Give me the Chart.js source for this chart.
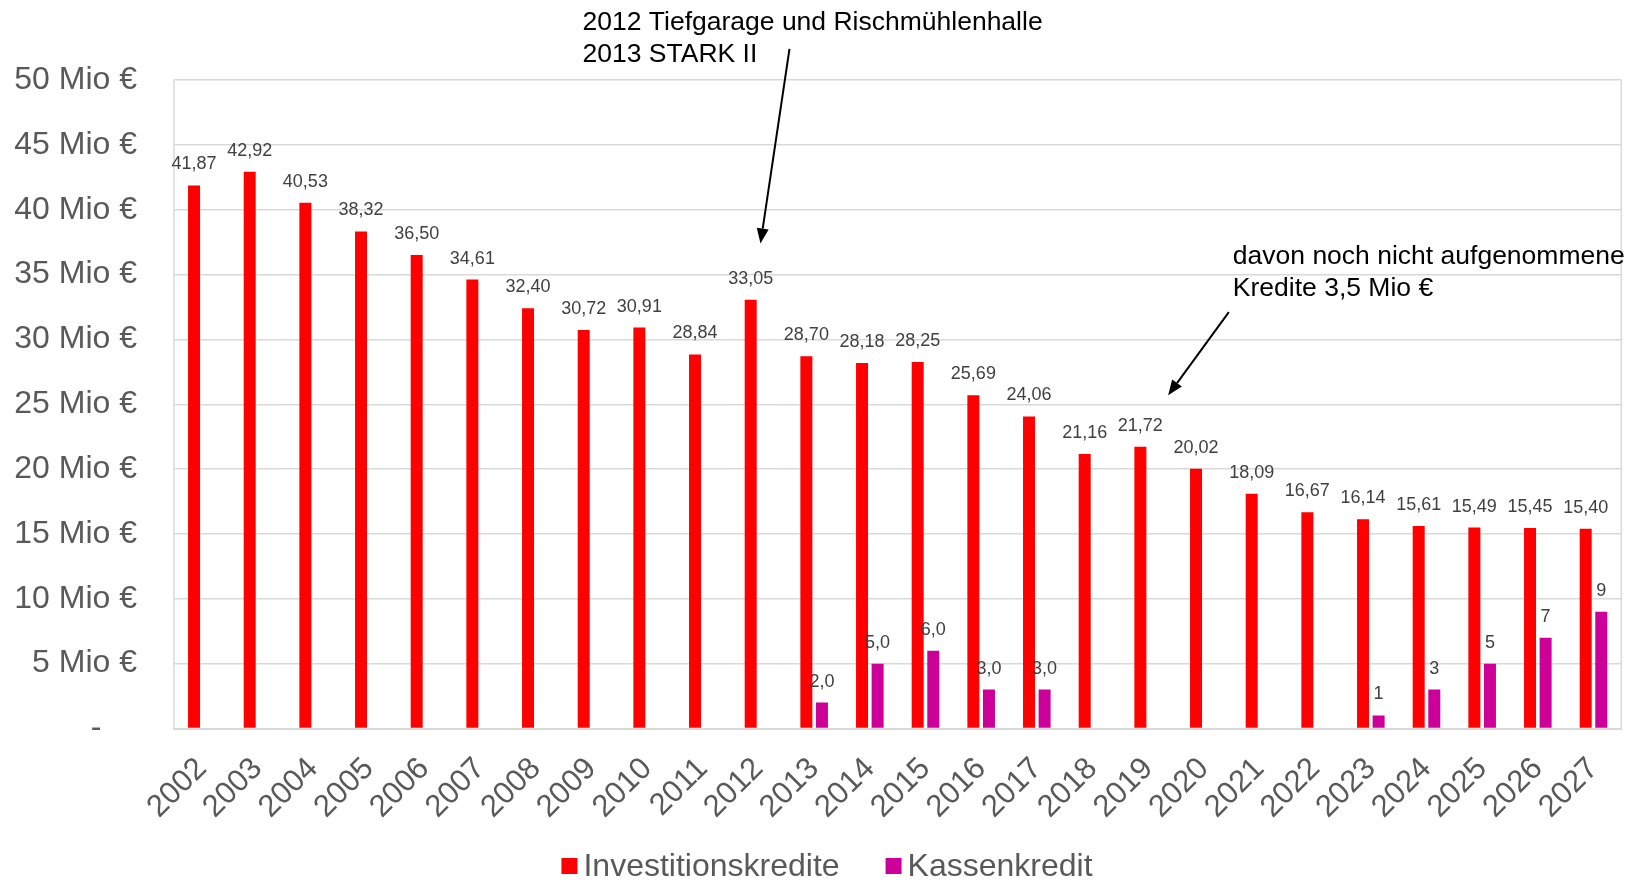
<!DOCTYPE html>
<html>
<head>
<meta charset="utf-8">
<script src="https://cdn.jsdelivr.net/npm/chart.js@4"></script>
<style>
  html, body { margin: 0; padding: 0; background: #fff; }
  #wrap { width: 1634px; height: 880px; }
</style>
</head>
<body>
<div id="wrap"><canvas id="kredite"></canvas></div>
<script>
const years = ['2002', '2003', '2004', '2005', '2006', '2007', '2008', '2009', '2010', '2011', '2012', '2013', '2014',
    '2015', '2016', '2017', '2018', '2019', '2020', '2021', '2022', '2023', '2024', '2025', '2026', '2027'];

const investitionskredite = [41.87, 42.92, 40.53, 38.32, 36.50, 34.61, 32.40, 30.72, 30.91, 28.84, 33.05, 28.70, 28.18,
    28.25, 25.69, 24.06, 21.16, 21.72, 20.02, 18.09, 16.67, 16.14, 15.61, 15.49, 15.45, 15.40];

const kassenkredit = [null, null, null, null, null, null, null, null, null, null, null, 2, 5,
    6, 3, 3, null, null, null, null, null, 1, 3, 5, 7, 9];

// the slide shows "2,0" for the older years and plain integers for the plan years
const kassenLabels = ['', '', '', '', '', '', '', '', '', '', '', '2,0', '5,0',
    '6,0', '3,0', '3,0', '', '', '', '', '', '1', '3', '5', '7', '9'];

const investLabels = investitionskredite.map(v => v.toFixed(2).replace('.', ','));

const yTicks = [0, 5, 10, 15, 20, 25, 30, 35, 40, 45, 50];

// notes with arrows: anchored on a year and a value of the axes
const notes = [
    {
        lines: ['2012 Tiefgarage und Rischmühlenhalle', '2013 STARK II'],
        textYear: '2012', textDx: -176, textValue: 54.4,
        fromYear: '2012', fromDx: 31, fromValue: 52.4,
        toYear: '2012', toDx: 2, toValue: 37.4
    },
    {
        lines: ['davon noch nicht aufgenommene', 'Kredite 3,5 Mio €'],
        textYear: '2020', textDx: 29, textValue: 36.4,
        fromYear: '2020', fromDx: 25, fromValue: 32.1,
        toYear: '2019', toDx: 20, toValue: 25.7
    }
];

const FONT = "'Liberation Sans', Arial, sans-serif";

const plotBorder = {
    id: 'plotBorder',
    beforeDatasetsDraw(chart) {
        const { ctx, chartArea: a } = chart;
        ctx.save();
        ctx.strokeStyle = '#d9d9d9';
        ctx.lineWidth = 1.5;
        ctx.beginPath();
        ctx.moveTo(a.left, a.bottom);
        ctx.lineTo(a.left, a.top);
        ctx.moveTo(a.right, a.top);
        ctx.lineTo(a.right, a.bottom);
        ctx.stroke();
        ctx.restore();
    }
};

// Excel-like legend: small squares close to the text, centred a bit right of the middle
const bottomLegend = {
    id: 'bottomLegend',
    afterDraw(chart) {
        const ctx = chart.ctx;
        const box = 16, gap = 6, itemGap = 46;
        ctx.save();
        ctx.font = '32px ' + FONT;
        ctx.textBaseline = 'middle';
        ctx.textAlign = 'left';
        const items = chart.data.datasets.map(ds => ({ text: ds.label, color: ds.backgroundColor, w: ctx.measureText(ds.label).width }));
        const total = items.reduce((s, it) => s + box + gap + it.w, 0) + itemGap * (items.length - 1);
        let x = chart.width / 2 + 10 - total / 2;
        const y = chart.height - 13;
        items.forEach(it => {
            ctx.fillStyle = it.color;
            ctx.fillRect(x, y - box / 2 - 1, box, box);
            ctx.fillStyle = '#595959';
            ctx.fillText(it.text, x + box + gap, y);
            x += box + gap + it.w + itemGap;
        });
        ctx.restore();
    }
};

const valueLabels = {
    id: 'valueLabels',
    afterDatasetsDraw(chart) {
        const ctx = chart.ctx;
        const texts = [investLabels, kassenLabels];
        ctx.save();
        ctx.font = '18px ' + FONT;
        ctx.fillStyle = '#404040';
        ctx.textAlign = 'center';
        ctx.textBaseline = 'middle';
        chart.data.datasets.forEach((ds, d) => {
            chart.getDatasetMeta(d).data.forEach((bar, i) => {
                if (ds.data[i] == null || !texts[d][i]) return;
                ctx.fillText(texts[d][i], bar.x, bar.y - 21);
            });
        });
        ctx.restore();
    }
};

const arrowNotes = {
    id: 'arrowNotes',
    afterDraw(chart) {
        const { ctx, scales: { x, y } } = chart;
        ctx.save();
        notes.forEach(n => {
            ctx.font = '26.5px ' + FONT;
            ctx.fillStyle = '#000';
            ctx.textAlign = 'left';
            ctx.textBaseline = 'middle';
            const tx = x.getPixelForValue(years.indexOf(n.textYear)) + n.textDx;
            const ty = y.getPixelForValue(n.textValue);
            n.lines.forEach((line, k) => ctx.fillText(line, tx, ty + k * 32));

            const x1 = x.getPixelForValue(years.indexOf(n.fromYear)) + n.fromDx;
            const y1 = y.getPixelForValue(n.fromValue);
            const x2 = x.getPixelForValue(years.indexOf(n.toYear)) + n.toDx;
            const y2 = y.getPixelForValue(n.toValue);
            const ang = Math.atan2(y2 - y1, x2 - x1);
            const head = 15, half = 6;
            const bx = x2 - head * Math.cos(ang), by = y2 - head * Math.sin(ang);
            ctx.strokeStyle = '#000';
            ctx.lineWidth = 2;
            ctx.beginPath();
            ctx.moveTo(x1, y1);
            ctx.lineTo(bx, by);
            ctx.stroke();
            ctx.beginPath();
            ctx.moveTo(x2, y2);
            ctx.lineTo(bx + half * Math.sin(ang), by - half * Math.cos(ang));
            ctx.lineTo(bx - half * Math.sin(ang), by + half * Math.cos(ang));
            ctx.closePath();
            ctx.fill();
        });
        ctx.restore();
    }
};

new Chart(document.getElementById('kredite'), {
    type: 'bar',
    data: {
        labels: years,
        datasets: [
            {
                label: 'Investitionskredite',
                data: investitionskredite,
                backgroundColor: '#ff0000',
                categoryPercentage: 0.56,
                barPercentage: 0.77
            },
            {
                label: 'Kassenkredit',
                data: kassenkredit,
                backgroundColor: '#cc0099',
                categoryPercentage: 0.56,
                barPercentage: 0.77
            }
        ]
    },
    options: {
        responsive: true,
        maintainAspectRatio: false,
        animation: false,
        layout: { padding: { top: 80, right: 11, left: 0, bottom: 0 } },
        plugins: {
            legend: { display: false },
            tooltip: { enabled: false }
        },
        scales: {
            x: {
                grid: { display: false },
                border: { color: '#d9d9d9', width: 2 },
                ticks: {
                    color: '#595959',
                    font: { family: FONT, size: 31 },
                    autoSkip: false,
                    minRotation: 45,
                    maxRotation: 45,
                    padding: 14
                },
                afterFit: scale => { scale.height = 151.5; }
            },
            y: {
                min: 0,
                max: 50,
                afterBuildTicks: scale => { scale.ticks = yTicks.map(v => ({ value: v })); },
                grid: { color: '#d9d9d9', lineWidth: 1.5, drawTicks: false },
                border: { display: false },
                ticks: {
                    color: '#595959',
                    font: { family: FONT, size: 32 },
                    padding: 37,
                    callback: v => v === 0 ? '-    ' : v + ' Mio €'
                },
                afterFit: scale => { scale.width = 174; }
            }
        }
    },
    plugins: [plotBorder, bottomLegend, valueLabels, arrowNotes]
});
</script>
</body>
</html>
